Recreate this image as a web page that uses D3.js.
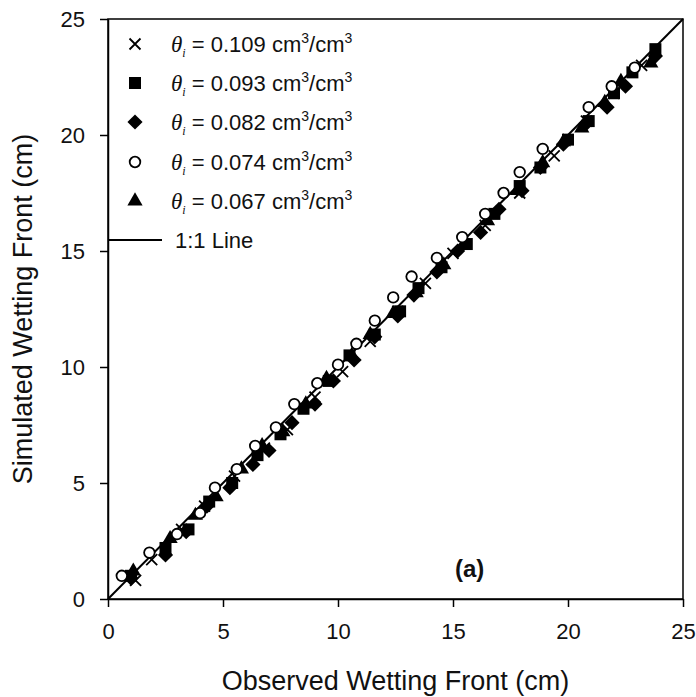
<!DOCTYPE html>
<html>
<head>
<meta charset="utf-8">
<script src="https://cdn.jsdelivr.net/npm/d3@7"></script>
<style>
  body { margin: 0; background: #fff; }
  text { font-family: "Liberation Sans", Arial, sans-serif; }
</style>
</head>
<body>
<svg id="chart"></svg>
<script>
var width = 696;
var height = 697;
var margin = {top: 19, left: 108, right: 13, bottom: 98};

// series labels (initial water content) and the marker used for each
var seriesNames = ['0.109', '0.093', '0.082', '0.074', '0.067'];
var seriesMarks = ['cross', 'square', 'diamond', 'circle', 'triangle'];

// observed / simulated wetting front (cm)
var obs109 = [1.2, 1.9, 3.2, 4.2, 5.5, 6.8, 7.8, 9.0, 10.2, 11.4, 12.6, 13.8, 15.0, 16.4, 17.9, 19.4, 20.8, 22.0, 23.2];
var sim109 = [0.8, 1.7, 3.0, 4.0, 5.3, 6.5, 7.3, 8.7, 9.8, 11.1, 12.4, 13.6, 14.9, 16.1, 17.5, 19.1, 20.6, 21.8, 23.0];

var obs093 = [1.0, 2.5, 3.5, 4.4, 5.4, 6.5, 7.5, 8.5, 9.6, 10.5, 11.6, 12.7, 13.5, 14.5, 15.6, 16.8, 17.9, 18.8, 20.0, 20.9, 22.0, 22.8, 23.8];
var sim093 = [1.0, 2.2, 3.0, 4.2, 5.0, 6.2, 7.1, 8.2, 9.4, 10.5, 11.4, 12.4, 13.4, 14.3, 15.3, 16.6, 17.8, 18.6, 19.8, 20.6, 21.8, 22.7, 23.7];

var obs082 = [1.0, 2.5, 3.4, 4.3, 5.3, 6.3, 7.0, 8.0, 9.0, 9.8, 10.7, 11.6, 12.6, 13.3, 14.3, 15.2, 16.2, 17.0, 18.0, 18.8, 19.8, 20.8, 21.7, 22.5, 23.8];
var sim082 = [0.9, 1.9, 2.9, 4.0, 4.8, 5.8, 6.4, 7.6, 8.4, 9.4, 10.3, 11.3, 12.2, 13.1, 14.1, 15.0, 15.8, 16.8, 17.6, 18.6, 19.6, 20.5, 21.2, 22.1, 23.4];

var obs074 = [0.6, 1.8, 3.0, 4.0, 4.65, 5.6, 6.4, 7.3, 8.1, 9.1, 10.0, 10.8, 11.6, 12.4, 13.2, 14.3, 15.4, 16.4, 17.2, 17.9, 18.9, 20.9, 21.9, 22.9];
var sim074 = [1.0, 2.0, 2.8, 3.7, 4.8, 5.6, 6.6, 7.4, 8.4, 9.3, 10.1, 11.0, 12.0, 13.0, 13.9, 14.7, 15.6, 16.6, 17.5, 18.4, 19.4, 21.2, 22.1, 22.9];

var obs067 = [1.1, 2.7, 3.8, 4.7, 5.8, 6.7, 7.6, 8.6, 9.5, 10.6, 11.4, 12.4, 13.4, 14.6, 15.5, 16.5, 17.8, 18.9, 19.8, 20.6, 21.6, 22.3, 23.6];
var sim067 = [1.2, 2.6, 3.6, 4.4, 5.6, 6.6, 7.2, 8.4, 9.5, 10.5, 11.4, 12.3, 13.2, 14.4, 15.3, 16.3, 17.6, 18.8, 19.7, 20.3, 21.4, 22.3, 23.1];

var tickValues = [0, 5, 10, 15, 20, 25];

var seriesObs = [obs109, obs093, obs082, obs074, obs067];
var seriesSim = [sim109, sim093, sim082, sim074, sim067];

var x = d3.scaleLinear()
    .domain([0, 25])
    .range([margin.left, width - margin.right]);

var y = d3.scaleLinear()
    .domain([0, 25])
    .range([height - margin.bottom, margin.top]);

const svg = d3.select('#chart')
    .attr('width', width)
    .attr('height', height);

// frame
svg.append('rect')
    .attr('x', x(0))
    .attr('y', y(25))
    .attr('width', x(25) - x(0))
    .attr('height', y(0) - y(25))
    .attr('fill', 'none')
    .attr('stroke', '#000')
    .attr('stroke-width', 1.5);

const xAxis = d3.axisBottom(x).tickValues(tickValues).tickSize(8).tickSizeOuter(0);
const yAxis = d3.axisLeft(y).tickValues(tickValues).tickSize(8).tickSizeOuter(0);

const gx = svg.append('g')
    .attr('transform', `translate(0,${y(0)})`)
    .call(xAxis);
const gy = svg.append('g')
    .attr('transform', `translate(${x(0)},0)`)
    .call(yAxis);

[gx, gy].forEach(function(g) {
  g.select('.domain').attr('stroke-width', 1.5);
  g.selectAll('.tick line').attr('stroke-width', 1.5);
  g.selectAll('.tick text')
      .attr('font-size', 22)
      .attr('font-family', '"Liberation Sans", Arial, sans-serif')
      .attr('fill', '#111');
});
gx.selectAll('.tick text').attr('y', 24);
gy.selectAll('.tick text').attr('x', -23);

// 1:1 line
svg.append('line')
    .attr('x1', x(0)).attr('y1', y(0))
    .attr('x2', x(25)).attr('y2', y(25))
    .attr('stroke', '#000')
    .attr('stroke-width', 2);

function markerPath(kind) {
  if (kind === 'square') return d3.symbol(d3.symbolSquare, 144)();
  if (kind === 'diamond') return d3.symbol(d3.symbolSquare, 115)();
  if (kind === 'triangle') return d3.symbol(d3.symbolTriangle, 100)();
  if (kind === 'circle') return d3.symbol(d3.symbolCircle, 88)();
  return 'M-5.5,-5.5L5.5,5.5M-5.5,5.5L5.5,-5.5';
}

function markerTransform(kind, px, py) {
  return `translate(${px},${py})` + (kind === 'diamond' ? ' rotate(45)' : '');
}

function styleMarker(sel, kind) {
  if (kind === 'circle') {
    sel.attr('fill', '#fff').attr('stroke', '#000').attr('stroke-width', 1.8);
  } else if (kind === 'cross') {
    sel.attr('fill', 'none').attr('stroke', '#000').attr('stroke-width', 1.8);
  } else {
    sel.attr('fill', '#000').attr('stroke', 'none');
  }
}

// draw order: filled markers first, open circles on top
var drawOrder = [0, 1, 2, 4, 3];
drawOrder.forEach(function(s) {
  var pts = seriesObs[s].map(function(o, i) { return [o, seriesSim[s][i]]; });
  var kind = seriesMarks[s];
  var marks = svg.append('g').selectAll('path')
      .data(pts)
      .join('path')
      .attr('d', markerPath(kind))
      .attr('transform', d => markerTransform(kind, x(d[0]), y(d[1])));
  styleMarker(marks, kind);
});

// legend
const legend = svg.append('g');
var rowY = [44, 83, 122, 162, 201, 240];
seriesNames.forEach(function(name, i) {
  var kind = seriesMarks[i];
  var m = legend.append('path')
      .attr('d', markerPath(kind))
      .attr('transform', markerTransform(kind, 135, rowY[i]));
  styleMarker(m, kind);

  var t = legend.append('text')
      .attr('x', 171)
      .attr('y', rowY[i] + 8)
      .attr('font-size', 22)
      .attr('fill', '#111');
  t.append('tspan')
      .attr('font-family', '"Liberation Serif", "Times New Roman", serif')
      .attr('font-style', 'italic')
      .attr('font-size', 23)
      .text('θ');
  t.append('tspan')
      .attr('font-family', '"Liberation Serif", "Times New Roman", serif')
      .attr('font-style', 'italic')
      .attr('font-size', 12)
      .attr('dy', 5)
      .text('i');
  t.append('tspan').attr('dy', -5).text(' = ' + name + ' cm');
  t.append('tspan').attr('font-size', 14).attr('dy', -9).text('3');
  t.append('tspan').attr('dy', 9).text('/cm');
  t.append('tspan').attr('font-size', 14).attr('dy', -9).text('3');
});
legend.append('line')
    .attr('x1', x(0)).attr('x2', 162)
    .attr('y1', rowY[5]).attr('y2', rowY[5])
    .attr('stroke', '#000')
    .attr('stroke-width', 2);
legend.append('text')
    .attr('x', 175)
    .attr('y', rowY[5] + 8)
    .attr('font-size', 22)
    .attr('fill', '#111')
    .text('1:1 Line');

// panel label
svg.append('text')
    .attr('x', 455)
    .attr('y', 577)
    .attr('font-family', '"Liberation Serif", "Times New Roman", serif')
    .attr('font-weight', 'bold')
    .attr('font-size', 24)
    .attr('fill', '#111')
    .text('(a)');

// axis titles
svg.append('text')
    .attr('x', (x(0) + x(25)) / 2)
    .attr('y', 690)
    .attr('text-anchor', 'middle')
    .attr('font-size', 27)
    .attr('fill', '#111')
    .text('Observed Wetting Front (cm)');

svg.append('text')
    .attr('transform', `translate(32,${(y(0) + y(25)) / 2}) rotate(-90)`)
    .attr('text-anchor', 'middle')
    .attr('font-size', 27)
    .attr('fill', '#111')
    .text('Simulated Wetting Front (cm)');
</script>
</body>
</html>
